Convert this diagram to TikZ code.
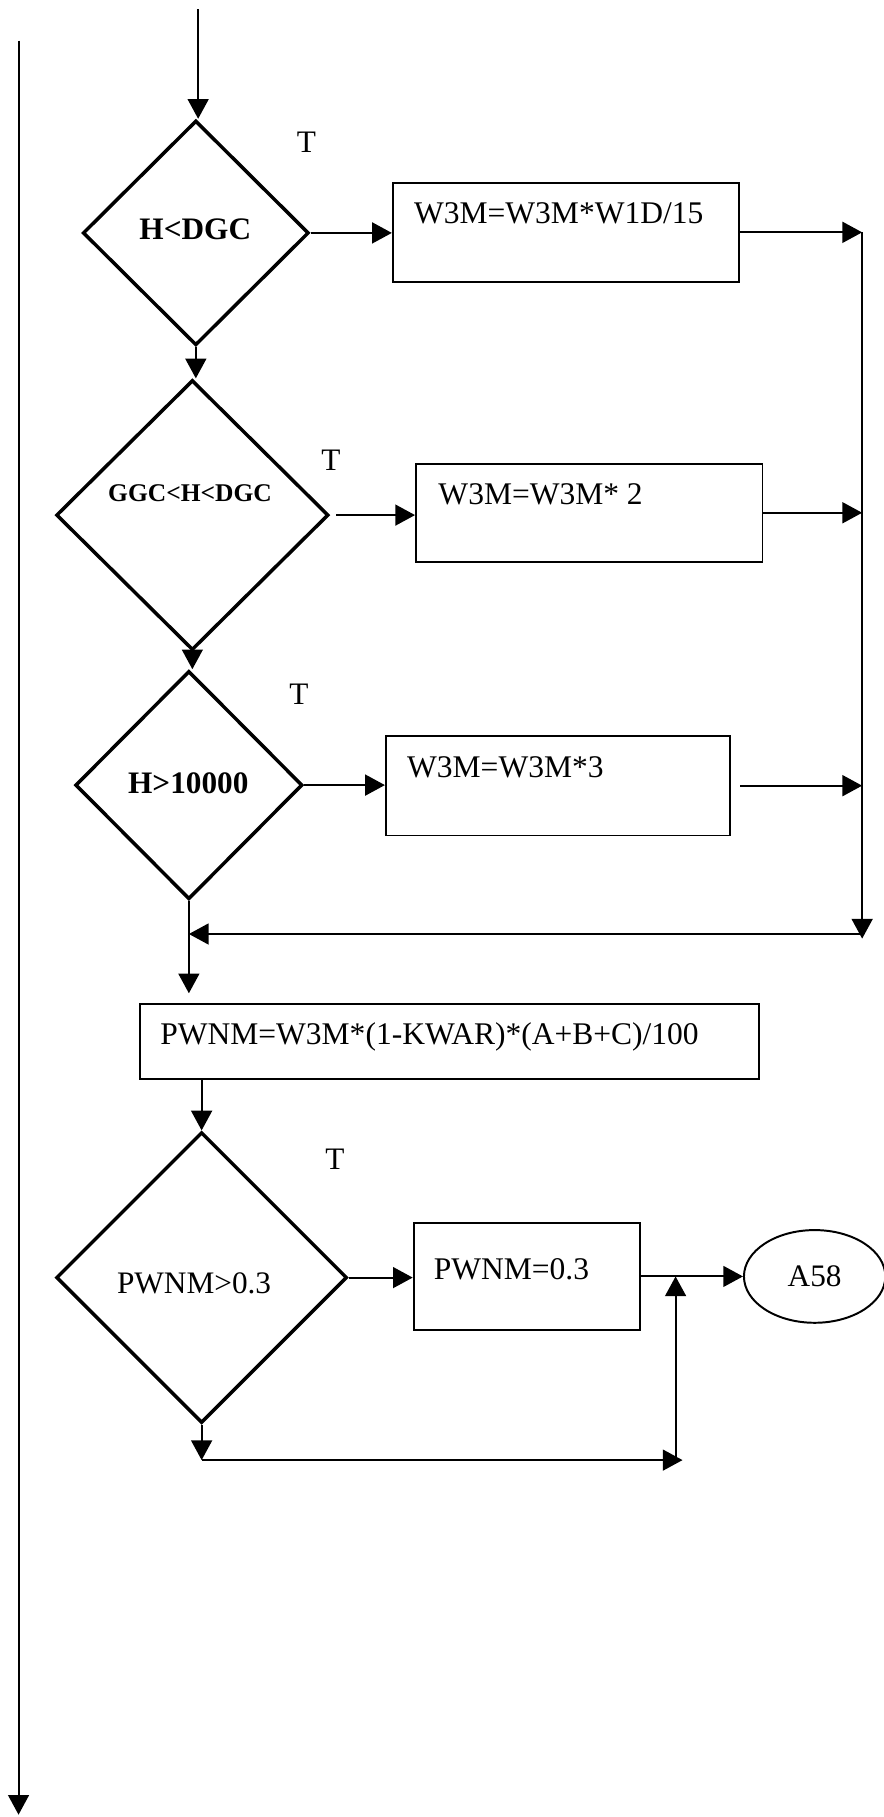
\documentclass[tikz,border=0pt]{standalone}
\usepackage{fontspec}
\setmainfont{Liberation Serif}
\usetikzlibrary{shapes.geometric,arrows.meta}
\begin{document}
\begin{tikzpicture}[x=0.5pt,y=-0.5pt,
  dia/.style={draw,diamond,line width=1.5pt,inner sep=0pt,aspect=1},
  box/.style={draw,rectangle,line width=0.85pt,inner sep=0pt},
  conn/.style={line width=0.85pt,-{Triangle[length=8.5pt,width=9pt]}},
  txt/.style={font=\fontsize{13.6}{16}\selectfont,inner sep=0pt,anchor=base west},
  btxt/.style={font=\bfseries\fontsize{13.5}{16}\selectfont,inner sep=0pt},
  tl/.style={font=\fontsize{13.5}{16}\selectfont,inner sep=0pt}]
\useasboundingbox (0,0) rectangle (762,1568);

% decisions
\node[dia,minimum width=97.5pt,minimum height=97pt] (d1) at (169,201) {};
\node[dia,minimum width=117.5pt,minimum height=116.5pt] (d2) at (166,444.5) {};
\node[dia,minimum width=98pt,minimum height=98.5pt] (d3) at (163,677.5) {};
\node[dia,minimum width=125.5pt,minimum height=125.5pt] (d5) at (174,1102.5) {};

\node[btxt] (t1) at (168.5,198) {H<DGC};
\node[btxt,font=\bfseries\fontsize{11}{13}\selectfont] (t2) at (164,425.5) {GGC<H<DGC};
\node[btxt] (t3) at (162.5,676) {H>10000};
\node[tl] (t5) at (167.5,1107.5) {PWNM>0.3};

% process boxes
\node[box,minimum width=149.5pt,minimum height=42.5pt] (b1) at (488.5,200.5) {};
\node[box,minimum width=149.5pt,minimum height=42.5pt] (b2) at (508.5,442.5) {};
\node[box,minimum width=148.5pt,minimum height=43pt] (b3) at (481.5,678) {};
\node[box,minimum width=267pt,minimum height=32.5pt] (b4) at (388,898.5) {};
\node[box,minimum width=97.5pt,minimum height=46.5pt] (b5) at (454.5,1101.5) {};

\node[txt] (x1) at (357,193) {W3M=W3M*W1D/15};
\node[txt] (x2) at (378,435) {W3M=W3M* 2};
\node[txt] (x3) at (351,671) {W3M=W3M*3};
\node[txt] (x4) at (138,901) {PWNM=W3M*(1-KWAR)*(A+B+C)/100};
\node[txt] (x5) at (374,1104) {PWNM=0.3};

\node[draw,ellipse,line width=0.85pt,minimum width=61pt,minimum height=40pt,inner sep=0pt,font=\fontsize{13.5}{16}\selectfont] (e) at (703,1101.5) {A58};

% T labels
\node[tl] (T1) at (264.5,122.5) {T};
\node[tl] (T2) at (285.5,397) {T};
\node[tl] (T3) at (258,599) {T};
\node[tl] (T4) at (289,1000.5) {T};

% coordinates
\coordinate (top) at (171,8);
\coordinate (rtop) at (744,200.5);
\coordinate (rbot) at (744,810);
\coordinate (mr) at (744,806);
\coordinate (c2) at (583,1260);
\coordinate (L1) at (16,35);
\coordinate (L2) at (16,1566);

% connectors
\draw[conn] (L1) -- (L2);
\draw[conn] (top) -- (top |- d1.north);
\draw[conn] (d1.east) -- (d1.east -| b1.west);
\draw[conn] (b1.east) -- (rtop);
\draw[conn] (rtop) -- (rbot);
\draw[conn] (d1.south) -- (d1.south |- d2.north);
\draw[conn] ([xshift=2.5pt]d2.east) -- (d2.east -| b2.west);
\draw[conn] (b2.east) -- (b2.east -| rtop);
\draw[conn] (d2.south) -- (d2.south |- d3.north);
\draw[conn] (d3.east) -- (d3.east -| b3.west);
\draw[conn] ([xshift=4pt]b3.east) -- (b3.east -| rtop);
\draw[conn] (mr) -- (d3.south |- mr);
\draw[conn,shorten >=4pt] (d3.south) -- (d3.south |- b4.north);
\draw[conn] (b4.south -| d5.north) -- (d5.north);
\draw[conn] (d5.east) -- (d5.east -| b5.west);
\draw[conn] (b5.east) -- (b5.east -| e.west);
\draw[conn] (d5.south) -- (d5.south |- c2);
\draw[conn] (d5.south |- c2) -- ([xshift=3pt]c2);
\draw[conn] (c2) -- (c2 |- b5.east);
\end{tikzpicture}
\end{document}
